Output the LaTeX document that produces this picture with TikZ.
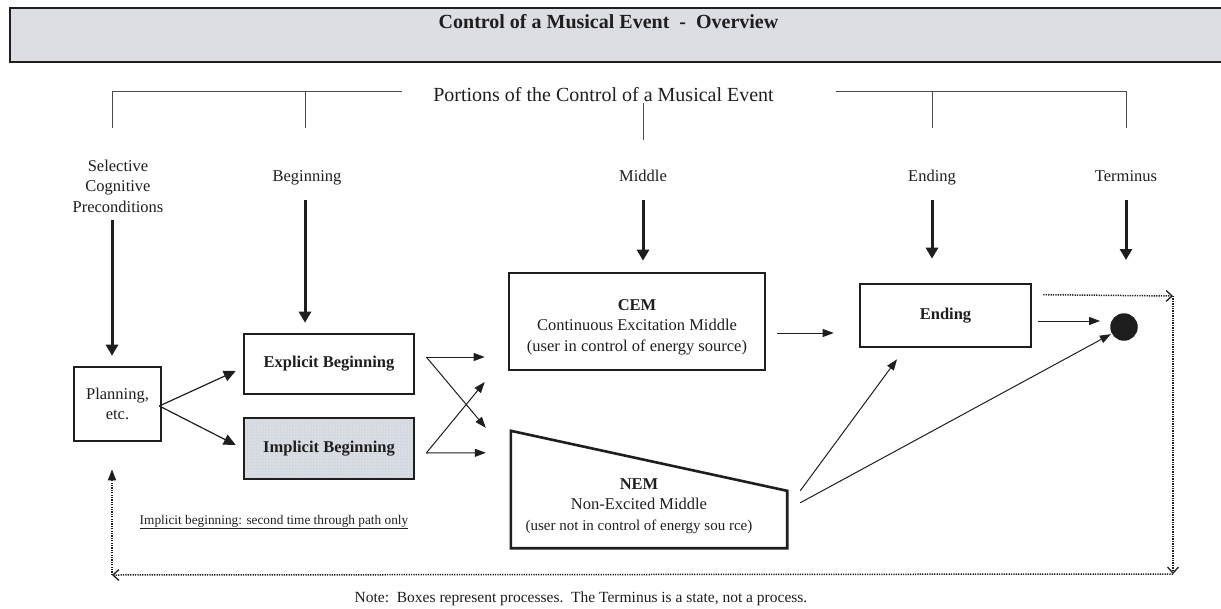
\documentclass[tikz,border=0pt]{standalone}
\usepackage{fontspec}
\setmainfont{Liberation Serif}
\usetikzlibrary{arrows.meta,patterns,calc}
\definecolor{bargray}{RGB}{221,222,227}
\definecolor{dotgray}{RGB}{212,216,224}
\definecolor{ink}{RGB}{30,30,30}

\begin{document}
\begin{tikzpicture}[x=1pt,y=-1pt,
  every node/.style={font=\fontsize{16.5}{20.5}\selectfont, text=ink},
  procbox/.style={draw=ink, line width=2.6pt, rectangle, inner sep=0pt, align=center},
  boldtext/.style={font=\fontsize{16.5}{20.5}\selectfont\bfseries},
  lbl/.style={align=center, inner sep=0pt},
  bracket/.style={draw=ink!80, line width=0.9pt},
  heavy/.style={draw=ink, line width=3pt, -{Triangle[length=11pt,width=12pt]}},
  flow/.style={draw=ink, line width=1pt, -{Triangle[length=11pt,width=8pt]}},
  fork/.style={draw=ink, line width=1.2pt, -{Triangle[length=12pt,width=11pt]}},
  loopline/.style={draw=ink, line width=1.5pt, dash pattern=on 1.3pt off 1.1pt},
  barb/.style={-{Straight Barb[length=6pt,width=11pt,line width=1.3pt]}},
]
\useasboundingbox (0,0) rectangle (1221,608);

% title bar
\node[draw=ink, line width=2.4pt, fill=bargray, minimum width=1240pt,
      minimum height=54pt, inner sep=0pt, anchor=north west] (bar) at (9,7) {};
\node[font=\fontsize{20}{24}\selectfont\bfseries] (title) at (608.5,22)
  {Control of a Musical Event\ \ -\ \ Overview};

% bracket over the portions
\node[font=\fontsize{20}{24}\selectfont] (portions) at (603.5,95)
  {Portions of the Control of a Musical Event};
\draw[bracket] (112,128) -- (112,91) -- (402,91);
\draw[bracket] (305,91) -- (305,128);
\draw[bracket] (836,91) -- (1126,91) -- (1126,128);
\draw[bracket] (932,91) -- (932,128);
\draw[bracket] (643,103) -- (643,140);

% portion labels
\node[lbl] (selc)  at (118,186) {Selective\\Cognitive\\Preconditions};
\node[lbl, anchor=base] (begl)  at (307,181) {Beginning};
\node[lbl, anchor=base] (midl)  at (643,181) {Middle};
\node[lbl, anchor=base] (endl)  at (932,181) {Ending};
\node[lbl, anchor=base] (terml) at (1126,181) {Terminus};

% process boxes
\node[procbox, minimum width=87pt, minimum height=74pt] (plan) at (117.5,404) {Planning,\\etc.};
\node[procbox, boldtext, minimum width=170pt, minimum height=60pt] (expl) at (329,364) {Explicit Beginning};
\node[procbox, boldtext, minimum width=170pt, minimum height=61pt,
      preaction={fill=dotgray}, pattern=dots, pattern color=white] (impl) at (329,448.5) {Implicit Beginning};
\node[procbox, minimum width=256pt, minimum height=97pt] (cem) at (637,321.5) {};
\node[lbl] (cemtext) at (637,327)
  {\textbf{CEM}\\Continuous Excitation Middle\\(user in control of energy source)};

% NEM: box with a sloping top
\node[minimum width=276pt, minimum height=117pt, inner sep=0pt] (nem) at (649,489.5) {};
\draw[draw=ink, line width=2.6pt] (nem.north west) -- ($(nem.north east)+(0,60)$)
  -- (nem.south east) -- (nem.south west) -- cycle;
\node[lbl] (nemtext) at (639,506)
  {\textbf{NEM}\\Non-Excited Middle\\{\fontsize{15}{20}\selectfont (user not in control of energy sou rce)}};

\node[procbox, boldtext, minimum width=171pt, minimum height=63pt] (endb) at (945.5,315.5) {Ending};
\node[circle, fill=ink, minimum size=27.5pt, inner sep=0pt] (term) at (1124,327) {};

% heavy arrows from the portion labels
\coordinate (selfoot)  at (112,220);
\coordinate (begfoot)  at (305,200);
\coordinate (midfoot)  at (643,200);
\coordinate (endfoot)  at (932,200);
\coordinate (termfoot) at (1126,200);
\draw[heavy, shorten >=10pt] (selfoot) -- (selfoot |- plan.north);
\draw[heavy, shorten >=10pt] (begfoot) -- (begfoot |- expl.north);
\draw[heavy, shorten >=11pt] (midfoot) -- (midfoot |- cem.north);
\draw[heavy, shorten >=24pt] (endfoot) -- (endfoot |- endb.north);
\draw[heavy] (termfoot) -- (1126,260);

% planning forks into the two beginnings
\coordinate (pf) at ($(plan.east)+(-3,2)$);
\draw[fork] (pf) -- ($(expl.west)+(-7,7)$);
\draw[fork] (pf) -- ($(impl.west)+(-7,-3.5)$);

% beginnings into the middles
\coordinate (xo) at ($(expl.east)+(11,-7)$);
\coordinate (io) at ($(impl.east)+(11,4.5)$);
\draw[flow] (xo) -- ($(cem.west)+(-23,35.5)$);
\draw[flow] (xo) -- ($(nem.north west)+(-25,-3)$);
\draw[flow] (io) -- ($(cem.west)+(-23,60.5)$);
\draw[flow] (io) -- ($(nem.north west)+(-25,22)$);

% middles into the ending and the terminus
\draw[flow] ($(cem.east)+(11,11.5)$) -- ($(endb.west)+(-25,17.5)$);
\coordinate (no1) at ($(nem.north east)+(13,60)$);
\coordinate (no2) at ($(nem.north east)+(13,72)$);
\draw[flow] (no1) -- ($(endb.south)+(-48.5,11)$);
\draw[flow, shorten >=1pt] (no2) -- (term);
\draw[flow] ($(endb.east)+(6,5.5)$) -- ($(term.west)+(-10,-6)$);

% dotted return path
\coordinate (la) at ($(endb.north east)+(11,12)$);
\coordinate (lb) at (1173,296);
\coordinate (lc) at (1173,574);
\coordinate (ld) at (112,575);
\draw[loopline, barb] (la) -- (lb);
\draw[loopline, barb] (lb) -- (lc);
\draw[loopline, barb] (lc) -- (ld);
\draw[loopline, -{Triangle[length=11pt,width=8pt]}] (ld) -- ($(ld |- plan.south)+(0,27)$);

% notes
\node[font=\fontsize{13.3}{16}\selectfont] (hint) at (274,522)
  {\underline{Implicit beginning: second time through path only}};
\node[font=\fontsize{15.5}{18}\selectfont] (note) at (581,599)
  {Note:\ \ Boxes represent processes.\ \ The Terminus is a state, not a process.};
\end{tikzpicture}
\end{document}
